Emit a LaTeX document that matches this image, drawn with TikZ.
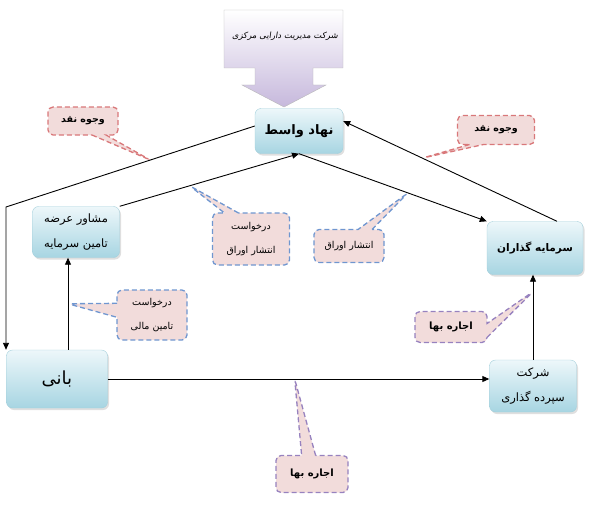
\documentclass[tikz,border=0pt]{standalone}
\usepackage{fontspec}
\newfontfamily\farsifont[Script=Arabic]{DejaVu Sans}
\newfontfamily\farsititle[Script=Arabic, FakeSlant=0.15]{DejaVu Sans}
\TeXXeTstate=1
\newcommand{\fatext}[1]{{\farsifont\beginR #1\endR}}
\usetikzlibrary{positioning, arrows.meta, calc, shapes.callouts, shadows}

\definecolor{boxtop}{HTML}{EDF7FA}
\definecolor{boxbot}{HTML}{A7D5E2}
\definecolor{boxline}{HTML}{A3CFDB}
\definecolor{notefill}{HTML}{F2DCDB}
\definecolor{notered}{HTML}{D9787A}
\definecolor{noteblue}{HTML}{6F96D0}
\definecolor{notepurple}{HTML}{9782BF}
\definecolor{amcbot}{HTML}{C6B8DC}

\begin{document}
\begin{tikzpicture}[
    x=1pt, y=-1pt,          % 1 px = 1 pt, y goes down
    >={Triangle[length=7pt,width=6pt]},
    link/.style={->, line width=0.9pt},
    block/.style={draw=boxline, rounded corners=6pt, top color=boxtop, bottom color=boxbot,
        drop shadow={shadow xshift=1.5pt, shadow yshift=-2pt, opacity=0.25},
        align=center, font=\fontsize{11.5}{25}\selectfont},
    note/.style={rectangle callout, rounded corners=5pt, fill=notefill, line width=1.3pt,
        dash pattern=on 5pt off 3pt, callout pointer width=14pt, align=center,
        font=\fontsize{9.5}{24}\selectfont},
    rednote/.style={note, draw=notered, font=\fontsize{9.5}{11}\selectfont\bfseries},
    bluenote/.style={note, draw=noteblue},
    purplenote/.style={note, draw=notepurple, font=\fontsize{10}{12}\selectfont\bfseries}
]
    \useasboundingbox (0,0) rectangle (593,508);

    % --- top arrow box ---
    \draw [draw=gray!55, top color=white, bottom color=amcbot]
        (224,10) -- (343,10) -- (343,68) -- (313,68) -- (313,85) -- (326,85)
        -- (284,107) -- (242,85) -- (255,85) -- (255,68) -- (224,68) -- cycle;
    \node [font=\fontsize{8.5}{10}\selectfont] (amc) at (285,36) {{\farsititle\beginR شرکت مدیریت دارایی مرکزی\endR}};

    % --- main boxes ---
    \node [block, minimum width=88pt, minimum height=45pt, font=\fontsize{13}{15}\selectfont\bfseries] (wasit) at (299,131) {\fatext{نهاد واسط}};
    \node [block, minimum width=87pt, minimum height=51pt] (moshaver) at (76,232) {\fatext{مشاور عرضه}\\\fatext{تامین سرمایه}};
    \node [block, minimum width=96pt, minimum height=53pt, font=\fontsize{10.5}{12}\selectfont\bfseries] (sarmaye) at (535,248) {\fatext{سرمایه گذاران}};
    \node [block, minimum width=101pt, minimum height=58pt, font=\fontsize{18}{20}\selectfont] (bani) at (57,379) {\fatext{بانی}};
    \node [block, minimum width=87pt, minimum height=52pt] (sepordeh) at (533,386) {\fatext{شرکت}\\\fatext{سپرده گذاری}};

    % --- connectors ---
    \coordinate (bend) at (6,207);
    \draw [link] ([yshift=5pt]wasit.west) -- coordinate[pos=0.42] (tipA) (bend) -- (bend |- bani.north);
    \draw [link] (moshaver.north east) -- coordinate[pos=0.39] (tipC) (wasit.south);
    \draw [link] (wasit.south) -- coordinate[pos=0.58] (tipD) (sarmaye.north west);
    \draw [link] ([xshift=22pt]sarmaye.north) -- coordinate[pos=0.63] (tipB) ([yshift=10pt]wasit.east);
    \draw [link] ([xshift=11pt]bani.north) -- coordinate[pos=0.5] (tipE) ([xshift=11pt]bani.north |- moshaver.south);
    \draw [link] (bani.east) -- coordinate[pos=0.49] (tipG) (bani.east -| sepordeh.west);
    \draw [link] (sepordeh.north) -- coordinate[pos=0.8] (tipF) (sepordeh.north |- sarmaye.south);

    % --- callouts ---
    \node [rednote, minimum width=70pt, minimum height=28pt, callout absolute pointer={(tipA)}] (cashA) at (83,121) {\fatext{وجوه نقد}};
    \node [rednote, minimum width=77pt, minimum height=29pt, callout absolute pointer={(tipB)}] (cashB) at (496,130) {\fatext{وجوه نقد}};
    \node [bluenote, minimum width=77pt, minimum height=52pt, callout absolute pointer={(tipC)}] (reqIssue) at (251,239) {\fatext{درخواست}\\\fatext{انتشار اوراق}};
    \node [bluenote, minimum width=70pt, minimum height=33pt, callout absolute pointer={(tipD)}] (issue) at (349,246) {\fatext{انتشار اوراق}};
    \node [bluenote, minimum width=70pt, minimum height=50pt, callout absolute pointer={(tipE)}] (reqFund) at (152,315) {\fatext{درخواست}\\\fatext{تامین مالی}};
    \node [purplenote, minimum width=72pt, minimum height=31pt, callout absolute pointer={(tipF)}] (rentA) at (451,327) {\fatext{اجاره بها}};
    \node [purplenote, minimum width=72pt, minimum height=37pt, callout absolute pointer={(tipG)}] (rentB) at (312,474) {\fatext{اجاره بها}};

\end{tikzpicture}
\end{document}
